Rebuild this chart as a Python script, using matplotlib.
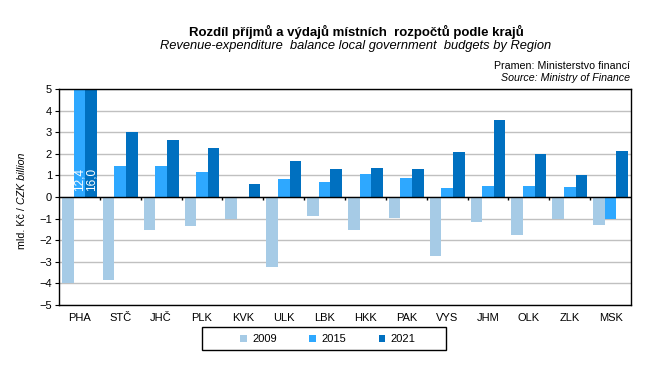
import numpy as np
import matplotlib.pyplot as plt
from matplotlib.patches import Rectangle

plt.rcParams['font.family'] = ['Liberation Sans', 'DejaVu Sans']

regions = ['PHA', 'STČ', 'JHČ', 'PLK', 'KVK', 'ULK', 'LBK', 'HKK', 'PAK',
           'VYS', 'JHM', 'OLK', 'ZLK', 'MSK']
years = ['2009', '2015', '2021']
v2009 = [-4.0, -3.83, -1.51, -1.36, -1.02, -3.23, -0.86, -1.51, -0.96,
         -2.72, -1.14, -1.74, -1.02, -1.28]
v2015 = [12.4, 1.45, 1.45, 1.17, -0.06, 0.85, 0.71, 1.08, 0.90,
         0.43, 0.52, 0.52, 0.48, -1.00]
v2021 = [16.0, 2.99, 2.65, 2.28, 0.62, 1.68, 1.31, 1.36, 1.31,
         2.10, 3.58, 2.01, 1.03, 2.15]
colors = ['#a6cbe6', '#2ea8ff', '#0070c0']

fig = plt.figure(figsize=(6.57, 3.85), dpi=100)
ax = fig.add_axes([59 / 657, 1 - 305 / 385, 572 / 657, 216 / 385])

x = np.arange(len(regions))
w = 0.285
for i, (vals, c) in enumerate(zip([v2009, v2015, v2021], colors)):
    ax.bar(x + (i - 1) * w, vals, w, color=c, label=years[i], zorder=2)

# values that run off the top
for i, vals in [(1, v2015), (2, v2021)]:
    ax.text(x[0] + (i - 1) * w, 0.3, f'{vals[0]:.1f}'.replace('.', ','),
            rotation=90, color='white', ha='center', va='bottom', fontsize=8.5, zorder=3)

ax.set_xlim(-0.5, len(regions) - 0.5)
ax.set_ylim(-5, 5)
ax.set_yticks(range(-5, 6))
ax.yaxis.grid(True, color='#c0c0c0', linewidth=1, zorder=0)
ax.axhline(0, color='black', linewidth=1, zorder=3)
ax.vlines(np.arange(0.5, len(regions) - 1), -0.13, 0, color='black', linewidth=1, zorder=3)
ax.set_xticks(x)
ax.set_xticklabels(regions)
ax.tick_params(axis='x', length=0, pad=6, labelsize=8)
ax.tick_params(axis='y', length=3, labelsize=8, pad=2)
for s in ax.spines.values():
    s.set_linewidth(1)

fig.text(22 / 657, 1 - 204 / 385, 'mld. Kč / ', rotation=90, rotation_mode='anchor',
         ha='right', va='center', fontsize=7.7)
fig.text(22 / 657, 1 - 204 / 385, 'CZK billion', rotation=90, rotation_mode='anchor',
         ha='left', va='center', fontsize=7.7, style='italic')

fig.text(356 / 657, 1 - 32 / 385, 'Rozdíl příjmů a výdajů místních  rozpočtů podle krajů',
         ha='center', va='center', fontsize=9.5, fontweight='bold')
fig.text(356 / 657, 1 - 46 / 385, 'Revenue-expenditure  balance local government  budgets by Region',
         ha='center', va='center', fontsize=9.3, style='italic')
fig.text(630 / 657, 1 - 66 / 385, 'Pramen: Ministerstvo financí', ha='right', va='center', fontsize=7.7)
fig.text(630 / 657, 1 - 78 / 385, 'Source: Ministry of Finance', ha='right', va='center',
         fontsize=7.7, style='italic')

leg = fig.legend(loc='center', bbox_to_anchor=(328 / 657, 1 - 339 / 385), ncol=3,
                 fontsize=8, handlelength=0.6, handleheight=0.6, columnspacing=2.9,
                 handletextpad=0.5, frameon=False, borderaxespad=0)
fig.patches.append(Rectangle((202 / 657, 1 - 350 / 385), 244 / 657, 23 / 385,
                             transform=fig.transFigure, fill=False,
                             edgecolor='black', linewidth=1))

fig.savefig('out.png', dpi=100)
